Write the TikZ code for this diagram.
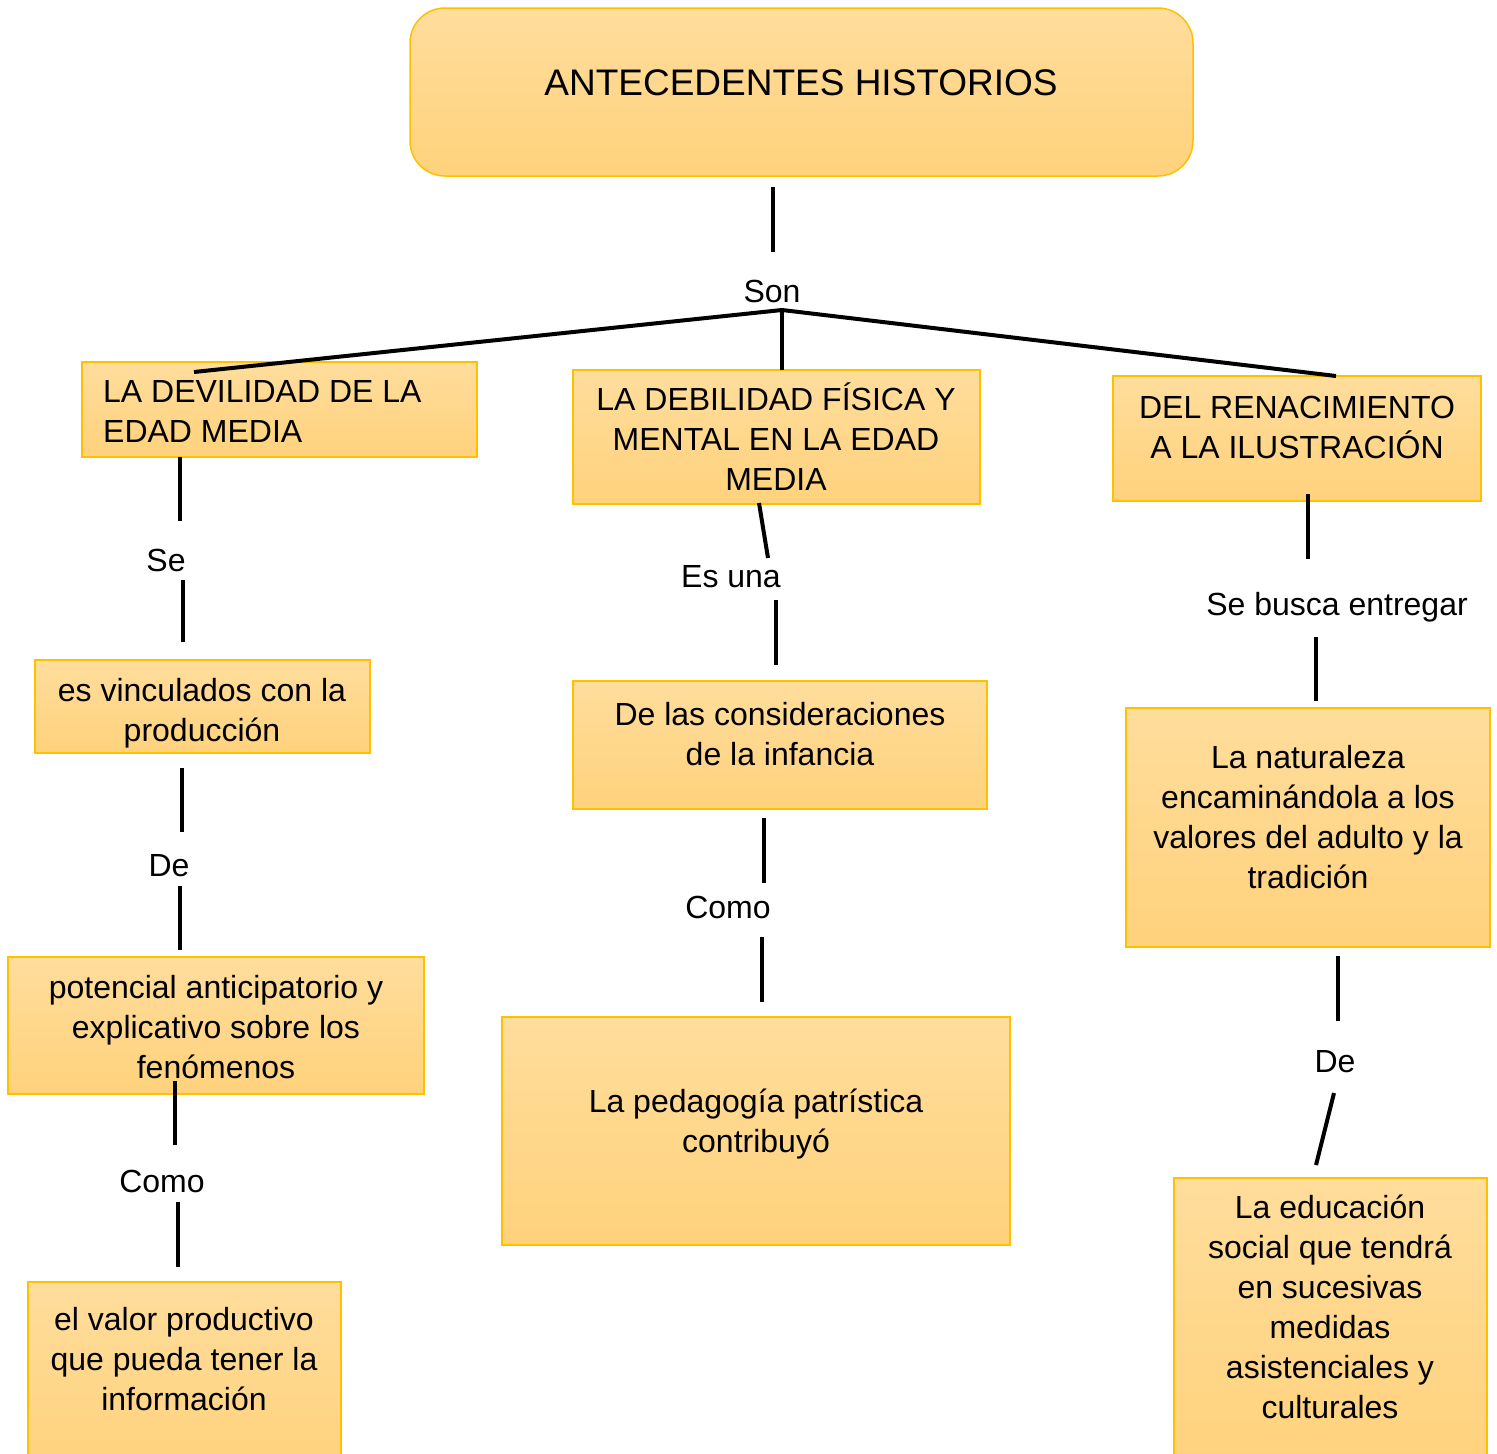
\documentclass[tikz,border=0pt]{standalone}
\usepackage{fontspec}
\setmainfont{Liberation Sans}
\definecolor{topc}{HTML}{FFDD9C}
\definecolor{botc}{HTML}{FFD27C}
\definecolor{edgec}{HTML}{FFC000}
\newcommand{\bodyfs}{\fontsize{32}{40}\selectfont}
\newcommand{\titlefs}{\fontsize{37}{46}\selectfont}
\begin{document}
\begin{tikzpicture}[x=1pt,y=-1pt,
  box/.style={draw=edgec, line width=1.5pt, top color=topc, bottom color=botc,
    rectangle, inner sep=0pt, outer sep=0pt},
  txt/.style={inner sep=0pt, align=center, font=\bodyfs},
  lbl/.style={inner sep=0pt, font=\bodyfs},
  conn/.style={line width=4pt, black}]
\useasboundingbox (0,0) rectangle (1497,1454);
\clip (0,0) rectangle (1497,1454);
\fill[white] (0,0) rectangle (1497,1454);

% boxes
\node[box, rounded corners=35pt, minimum width=783pt, minimum height=168pt] (b0) at (801.5,92) {};
\node[box, minimum width=395pt, minimum height=95pt] (b1) at (279.5,409.5) {};
\node[box, minimum width=407pt, minimum height=134pt] (b2) at (776.5,437) {};
\node[box, minimum width=368pt, minimum height=125pt] (b3) at (1297,438.5) {};
\node[box, minimum width=335pt, minimum height=93pt] (b4) at (202.5,706.5) {};
\node[box, minimum width=414pt, minimum height=128pt] (b5) at (780,745) {};
\node[box, minimum width=364pt, minimum height=239pt] (b6) at (1308,827.5) {};
\node[box, minimum width=416pt, minimum height=137pt] (b7) at (216,1025.5) {};
\node[box, minimum width=508pt, minimum height=228pt] (b8) at (756,1131) {};
\node[box, minimum width=313pt, minimum height=190pt] (b9) at (184.5,1377) {};
\node[box, minimum width=313pt, minimum height=294pt] (b10) at (1330.5,1325) {};

% texts
\node[inner sep=0pt, font=\titlefs] (t0) at (801,86) {\strut ANTECEDENTES HISTORIOS};
\node[txt, align=left, anchor=west] (t1) at (103,414.5) {\strut LA DEVILIDAD DE LA\\\strut EDAD MEDIA};
\node[txt] (t2) at (776,442.5) {\strut LA DEBILIDAD FÍSICA Y\\\strut MENTAL EN LA EDAD\\\strut MEDIA};
\node[txt] (t3) at (1297,430.5) {\strut DEL RENACIMIENTO\\\strut A LA ILUSTRACIÓN};
\node[txt] (t4) at (202,713.5) {\strut es vinculados con la\\\strut producción};
\node[txt] (t5) at (780,737.5) {\strut De las consideraciones\\\strut de la infancia};
\node[txt] (t6) at (1308,820) {\strut La naturaleza\\\strut encaminándola a los\\\strut valores del adulto y la\\\strut tradición};
\node[txt] (t7) at (216,1030) {\strut potencial anticipatorio y\\\strut explicativo sobre los\\\strut fenómenos};
\node[txt] (t8) at (756,1124) {\strut La pedagogía patrística\\\strut contribuyó};
\node[txt] (t9) at (184,1362.5) {\strut el valor productivo\\\strut que pueda tener la\\\strut información};
\node[txt] (t10) at (1330,1310) {\strut La educación\\\strut social que tendrá\\\strut en sucesivas\\\strut medidas\\\strut asistenciales y\\\strut culturales};

% labels
\node[lbl] (l0) at (772,291) {Son};
\node[lbl] (l1) at (166,560) {Se};
\node[lbl] (l2) at (169,866) {De};
\node[lbl] (l3) at (162,1181) {Como};
\node[lbl] (l4) at (731,577) {Es una};
\node[lbl] (l5) at (728,907) {Como};
\node[lbl] (l6) at (1337,607) {Se busca entregar};
\node[lbl] (l7) at (1335,1062) {De};

% connector end points
\coordinate (a0) at (773,187);  \coordinate (a1) at (773,252);
\coordinate (j)  at (782,310);
\coordinate (jl) at (194,372);  \coordinate (jm) at (782,370);  \coordinate (jr) at (1336,376);
\coordinate (p1) at (180,457);  \coordinate (p2) at (180,521);
\coordinate (p3) at (183,580);  \coordinate (p4) at (183,642);
\coordinate (p5) at (182,768);  \coordinate (p6) at (182,832);
\coordinate (p7) at (180,886);  \coordinate (p8) at (180,950);
\coordinate (p9) at (175,1081); \coordinate (p10) at (175,1145);
\coordinate (p11) at (178,1202); \coordinate (p12) at (178,1267);
\coordinate (q1) at (759,503);  \coordinate (q2) at (768,558);
\coordinate (q3) at (776,600);  \coordinate (q4) at (776,665);
\coordinate (q5) at (764,818);  \coordinate (q6) at (764,883);
\coordinate (q7) at (762,937);  \coordinate (q8) at (762,1002);
\coordinate (r1) at (1308,494); \coordinate (r2) at (1308,559);
\coordinate (r3) at (1316,637); \coordinate (r4) at (1316,701);
\coordinate (r5) at (1338,956); \coordinate (r6) at (1338,1021);
\coordinate (r7) at (1334,1093); \coordinate (r8) at (1316,1165);

% connectors
\draw[conn] (a0) -- (a1);
\draw[conn] (j) -- (jl);
\draw[conn] (j) -- (jm);
\draw[conn] (j) -- (jr);
\draw[conn] (p1) -- (p2);
\draw[conn] (p3) -- (p4);
\draw[conn] (p5) -- (p6);
\draw[conn] (p7) -- (p8);
\draw[conn] (p9) -- (p10);
\draw[conn] (p11) -- (p12);
\draw[conn] (q1) -- (q2);
\draw[conn] (q3) -- (q4);
\draw[conn] (q5) -- (q6);
\draw[conn] (q7) -- (q8);
\draw[conn] (r1) -- (r2);
\draw[conn] (r3) -- (r4);
\draw[conn] (r5) -- (r6);
\draw[conn] (r7) -- (r8);
\end{tikzpicture}
\end{document}
